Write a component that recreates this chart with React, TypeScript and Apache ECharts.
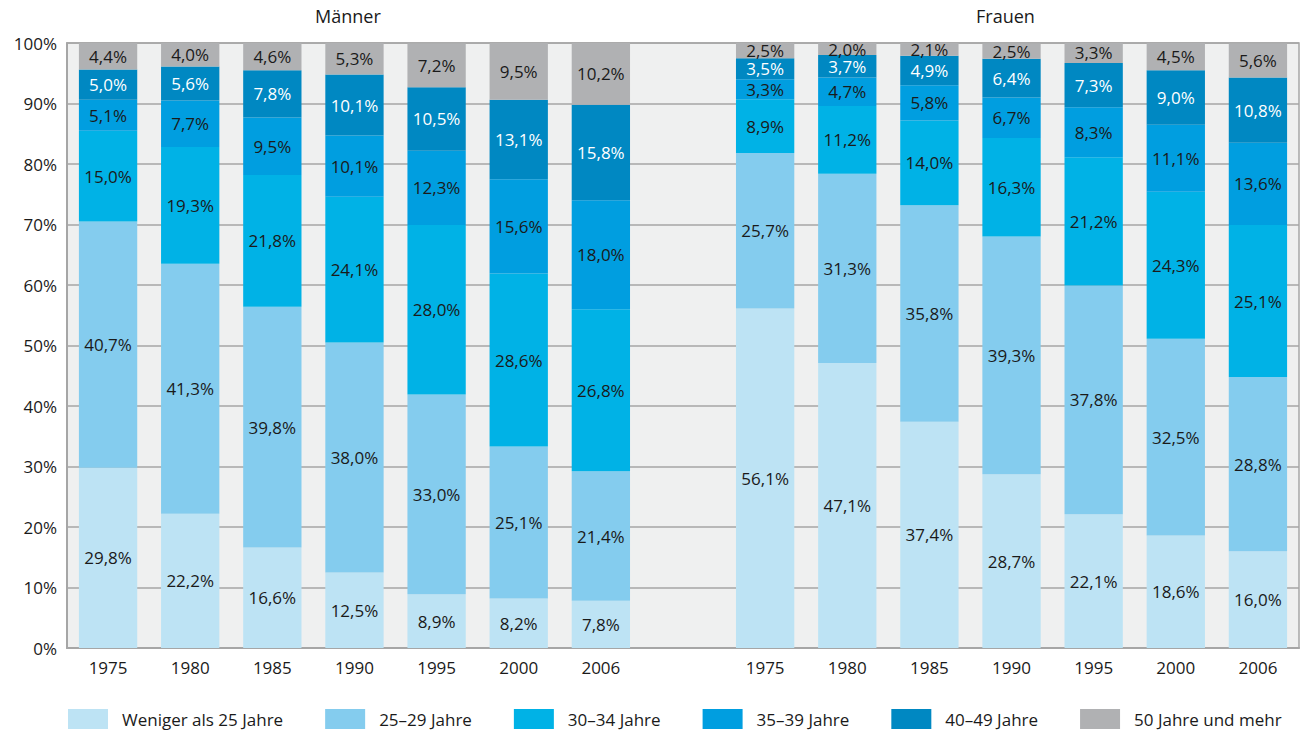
import React, { useEffect, useRef } from "react";
import * as echarts from "echarts";

const years = ["1975", "1980", "1985", "1990", "1995", "2000", "2006"];
const categories = [...years, "", ...years];

const seriesNames = [
  "Weniger als 25 Jahre",
  "25–29 Jahre",
  "30–34 Jahre",
  "35–39 Jahre",
  "40–49 Jahre",
  "50 Jahre und mehr",
];

// Männer 1975..2006
const menUnder25 = [29.8, 22.2, 16.6, 12.5, 8.9, 8.2, 7.8];
const men25_29 = [40.7, 41.3, 39.8, 38.0, 33.0, 25.1, 21.4];
const men30_34 = [15.0, 19.3, 21.8, 24.1, 28.0, 28.6, 26.8];
const men35_39 = [5.1, 7.7, 9.5, 10.1, 12.3, 15.6, 18.0];
const men40_49 = [5.0, 5.6, 7.8, 10.1, 10.5, 13.1, 15.8];
const men50plus = [4.4, 4.0, 4.6, 5.3, 7.2, 9.5, 10.2];

// Frauen 1975..2006
const womenUnder25 = [56.1, 47.1, 37.4, 28.7, 22.1, 18.6, 16.0];
const women25_29 = [25.7, 31.3, 35.8, 39.3, 37.8, 32.5, 28.8];
const women30_34 = [8.9, 11.2, 14.0, 16.3, 21.2, 24.3, 25.1];
const women35_39 = [3.3, 4.7, 5.8, 6.7, 8.3, 11.1, 13.6];
const women40_49 = [3.5, 3.7, 4.9, 6.4, 7.3, 9.0, 10.8];
const women50plus = [2.5, 2.0, 2.1, 2.5, 3.3, 4.5, 5.6];

const yTicks = [0, 10, 20, 30, 40, 50, 60, 70, 80, 90, 100];

const colors = ["#bde3f4", "#84ccee", "#00b2e6", "#009ee0", "#0088c2", "#b0b1b3"];
const labelColors = ["#1a1a1a", "#1a1a1a", "#1a1a1a", "#1a1a1a", "#ffffff", "#1a1a1a"];

const FONT = "'Open Sans', sans-serif";

export default function App() {
  const ref = useRef<HTMLDivElement>(null);

  useEffect(() => {
    if (!ref.current) return;
    const chart = echarts.init(ref.current, null, { renderer: "svg" });

    const menSets = [menUnder25, men25_29, men30_34, men35_39, men40_49, men50plus];
    const womenSets = [womenUnder25, women25_29, women30_34, women35_39, women40_49, women50plus];

    const series = seriesNames.map((name, i) => ({
      name,
      type: "bar",
      stack: "total",
      barCategoryGap: "29%",
      data: [...menSets[i], null, ...womenSets[i]],
      itemStyle: { color: colors[i] },
      label: {
        show: true,
        position: "inside",
        color: labelColors[i],
        fontFamily: FONT,
        fontSize: 17,
        formatter: (p: any) => (p.value == null ? "" : p.value.toFixed(1).replace(".", ",") + "%"),
      },
    }));

    chart.setOption({
      animation: false,
      textStyle: { fontFamily: FONT },
      grid: {
        left: 67,
        right: 7,
        top: 43,
        bottom: 84,
        show: true,
        backgroundColor: "#eff0f0",
        borderColor: "#a6a6a6",
        borderWidth: 1.5,
      },
      legend: {
        left: 68,
        top: 709,
        width: 1236,
        padding: 0,
        itemWidth: 40,
        itemHeight: 20,
        itemGap: 42,
        icon: "rect",
        textStyle: {
          fontFamily: FONT,
          fontSize: 17,
          lineHeight: 18,
          color: "#1a1a1a",
          padding: [0, 0, 0, 9],
        },
        data: seriesNames,
      },
      graphic: [
        {
          type: "text",
          left: 315,
          top: 7,
          style: { text: "Männer", fontFamily: FONT, fontSize: 18, fill: "#1a1a1a" },
        },
        {
          type: "text",
          left: 976,
          top: 7,
          style: { text: "Frauen", fontFamily: FONT, fontSize: 18, fill: "#1a1a1a" },
        },
      ],
      xAxis: {
        type: "category",
        data: categories,
        axisTick: { show: false },
        axisLine: { lineStyle: { color: "#a6a6a6", width: 2 } },
        axisLabel: { interval: 0, fontSize: 17, color: "#1a1a1a", margin: 11, fontFamily: FONT },
      },
      yAxis: {
        type: "value",
        min: yTicks[0],
        max: yTicks[yTicks.length - 1],
        interval: 10,
        axisLine: { show: true, lineStyle: { color: "#a6a6a6", width: 2 } },
        axisTick: { show: false },
        splitLine: { lineStyle: { color: "#a6a6a6", width: 1.5 } },
        axisLabel: {
          fontSize: 17,
          color: "#1a1a1a",
          margin: 10,
          fontFamily: FONT,
          formatter: (v: number) => v + "%",
        },
      },
      series,
    });

    return () => chart.dispose();
  }, []);

  return (
    <div
      ref={ref}
      style={{ position: "absolute", left: 0, top: 0, width: 1306, height: 732 }}
    />
  );
}
